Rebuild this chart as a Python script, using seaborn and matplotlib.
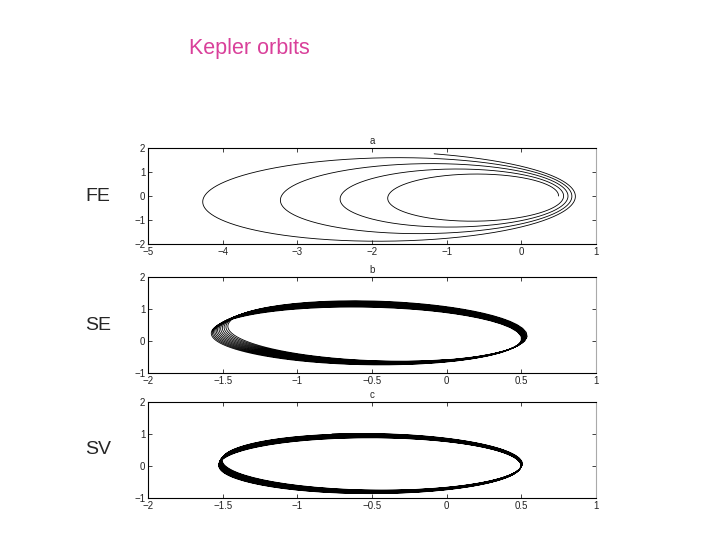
import numpy as np
import pandas as pd
import matplotlib
matplotlib.use("Agg")
import matplotlib.pyplot as plt
import seaborn as sns

# Kepler problem, eccentricity 0.5, start at perihelion
q0 = [0.5, 0.0]
p0 = [0.0, 1.7320508]

methods = ["FE", "SE", "SV"]
panel_titles = ["a", "b", "c"]
step_sizes = [0.0102, 0.085, 0.065]
n_steps = [6250, 950, 1500]

xlims = [(-5, 1), (-2, 1), (-2, 1)]
ylims = [(-2, 2), (-1, 2), (-1, 2)]
xticks = [[-5, -4, -3, -2, -1, 0, 1], [-2, -1.5, -1, -0.5, 0, 0.5, 1], [-2, -1.5, -1, -0.5, 0, 0.5, 1]]
xticklabels = [["-5", "-4", "-3", "-2", "-1", "0", "1"],
               ["-2", "-1.5", "-1", "-0.5", "0", "0.5", "1"],
               ["-2", "-1.5", "-1", "-0.5", "0", "0.5", "1"]]
yticks = [[-2, -1, 0, 1, 2], [-1, 0, 1, 2], [-1, 0, 1, 2]]


def force(q):
    r = np.sqrt(q[0] ** 2 + q[1] ** 2)
    return -q / r ** 3


def integrate(method, h, n):
    q = np.array(q0, dtype=float)
    p = np.array(p0, dtype=float)
    out = np.empty((n + 1, 2))
    out[0] = q
    for i in range(n):
        if method == "FE":
            q, p = q + h * p, p + h * force(q)
        elif method == "SE":
            q = q + h * p
            p = p + h * force(q)
        else:
            p = p + 0.5 * h * force(q)
            q = q + h * p
            p = p + 0.5 * h * force(q)
        out[i + 1] = q
    return pd.DataFrame({"x": out[:, 0], "y": out[:, 1], "step": np.arange(n + 1)})


sns.set_style("white")
plt.rcParams['font.family'] = ['Liberation Sans', 'DejaVu Sans']

fig = plt.figure(figsize=(7.2, 5.4), dpi=100)
fig.text(0.347, 0.91, "Kepler orbits", color="#d9409a", fontsize=15.5, ha="center", va="center")

bottoms = [0.548, 0.309, 0.078]
for i, m in enumerate(methods):
    ax = fig.add_axes([0.2056, bottoms[i], 0.622, 0.178])
    df = integrate(m, step_sizes[i], n_steps[i])
    sns.lineplot(data=df, x="x", y="y", sort=False, estimator=None, color="black",
                 linewidth=0.6, ax=ax)
    ax.set_xlim(xlims[i])
    ax.set_ylim(ylims[i])
    ax.set_xticks(xticks[i])
    ax.set_xticklabels([t.replace("-", "\u2212") for t in xticklabels[i]])
    ax.set_yticks(yticks[i])
    ax.set_yticklabels([str(t).replace("-", "\u2212") for t in yticks[i]])
    ax.tick_params(direction="in", length=3, width=0.6, labelsize=7, colors="#222222",
                   top=True, right=True, bottom=True, left=True, pad=2)
    ax.set_xlabel("")
    ax.set_ylabel("")
    ax.set_title(panel_titles[i], fontsize=7, pad=3)
    for s in ax.spines.values():
        s.set_linewidth(0.8)
        s.set_color("black")
    ax.spines["right"].set_color("#aaaaaa")
    fig.text(0.136, bottoms[i] + 0.178 / 2 - 0.0, m, fontsize=14, ha="center", va="center")

plt.savefig("out.png", dpi=100)
